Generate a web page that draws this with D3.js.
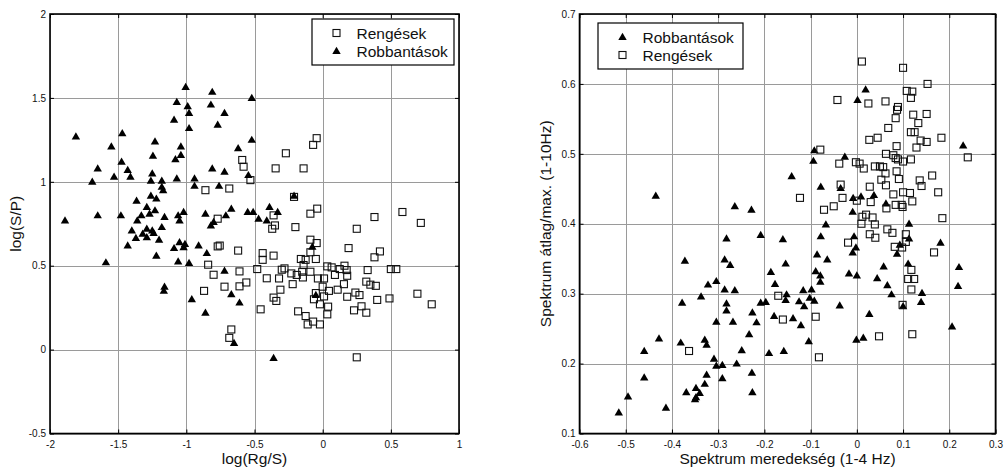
<!DOCTYPE html>
<html>
<head>
<meta charset="utf-8">
<script src="https://cdn.jsdelivr.net/npm/d3@7"></script>
<style>
  body { margin: 0; background: #fff; }
  text { font-family: "Liberation Sans", Arial, sans-serif; fill: #111; }
</style>
</head>
<body>
<svg id="fig" width="1004" height="469"></svg>
<script>
'use strict';

// ---- left panel: log(Rg/S) vs log(S/P) ----
var leftXTicks = [-2, -1.5, -1, -0.5, 0, 0.5, 1];
var leftYTicks = [-0.5, 0, 0.5, 1, 1.5, 2];

var rengesekA = [
  [-0.59,1.13],[-0.58,1.09],[-0.53,1.01],[-0.86,0.95],[-0.685,0.96],[-0.77,0.78],
  [-0.77,0.615],[-0.755,0.62],[-0.62,0.59],[-0.44,0.575],[-0.44,0.535],[-0.37,0.72],[-0.84,0.506],
  [-0.80,0.446],[-0.61,0.466],[-0.48,0.48],[-0.41,0.425],[-0.72,0.375],[-0.61,0.377],[-0.56,0.40],
  [-0.87,0.35],[-0.455,0.24],[-0.67,0.12],[-0.685,0.07],
  [-0.044,1.26],[-0.07,1.22],[-0.27,1.17],[-0.345,1.08],[-0.14,1.08],[-0.21,0.91],[-0.09,0.81],
  [-0.04,0.84],[-0.36,0.80],[0.38,0.79],[0.585,0.82],[0.72,0.755],
  [-0.35,0.74],[-0.20,0.73],[0.25,0.72],[-0.09,0.655],[-0.044,0.635],[0.19,0.605],[0.42,0.585],
  [0.38,0.55],[-0.36,0.56],[-0.09,0.58],[-0.16,0.54],[-0.125,0.535],[-0.05,0.54],[-0.14,0.504],
  [-0.30,0.476],[-0.28,0.484],[-0.23,0.454],[-0.19,0.445],[-0.15,0.464],[-0.145,0.43],[-0.09,0.464],
  [-0.035,0.424],[0.01,0.424],[-0.32,0.424],[0.034,0.496],[0.066,0.49],[0.09,0.445],[0.125,0.48],
  [0.16,0.5],[0.176,0.474],[0.18,0.44],[0.33,0.474],[0.50,0.48],[0.54,0.48],[-0.22,0.39],
  [-0.31,0.357],[-0.36,0.31],[-0.34,0.29],[0.00,0.375],[-0.05,0.337],[0.01,0.317],[-0.064,0.30],
  [0.046,0.35],[0.11,0.357],[0.156,0.39],[-0.02,0.27],[0.04,0.256],[0.034,0.21],[-0.18,0.228],
  [-0.125,0.20],[-0.07,0.167],[-0.11,0.15],[-0.02,0.15],[0.18,0.315],[0.24,0.34],[0.27,0.325],
  [0.23,0.234],[0.285,0.258],[0.32,0.22],[0.32,0.405],[0.35,0.387],[0.39,0.38],[0.40,0.296],
  [0.49,0.305],[0.695,0.333],[0.80,0.27],[0.25,-0.046]
];

var robbantasokA = [
  [-1.005,1.565],[-0.81,1.536],[-0.52,1.50],[-1.07,1.476],[-0.99,1.45],[-0.82,1.46],[-0.98,1.41],
  [-0.72,1.41],[-1.09,1.37],[-0.77,1.34],[-0.98,1.32],[-1.81,1.27],[-1.47,1.29],[-1.55,1.21],
  [-1.23,1.24],[-0.52,1.25],[-1.04,1.21],[-0.62,1.20],[-1.245,1.155],[-1.04,1.16],[-1.08,1.135],
  [-1.475,1.12],[-1.65,1.08],[-1.43,1.07],[-0.81,1.08],[-0.72,1.06],[-1.69,1.00],[-1.53,1.03],
  [-1.41,1.03],[-1.25,1.05],[-1.26,1.006],[-1.18,1.006],[-1.07,1.02],[-0.94,1.02],[-0.545,1.04],
  [-1.18,0.97],[-1.17,0.95],[-0.94,0.976],[-0.76,0.976],[-1.365,0.887],[-1.26,0.917],[-1.22,0.90],
  [-1.29,0.85],[-1.23,0.83],[-1.65,0.80],[-1.48,0.80],[-1.33,0.80],[-1.27,0.81],[-1.16,0.79],
  [-1.06,0.80],[-1.02,0.82],[-0.86,0.81],[-0.67,0.84],[-0.55,0.82],[-0.51,0.82],[-0.71,0.80],
  [-0.47,0.78],[-0.41,0.77],[-0.39,0.85],[-1.36,0.77],[-1.05,0.77],[-0.80,0.76],[-1.89,0.77],
  [-0.82,0.74],[-1.40,0.71],[-1.29,0.72],[-1.25,0.71],[-1.18,0.73],[-1.32,0.69],[-1.29,0.67],
  [-1.37,0.665],[-1.24,0.695],[-1.20,0.655],[-1.43,0.62],[-1.05,0.64],[-1.01,0.63],[-1.09,0.605],
  [-1.02,0.61],[-0.91,0.62],[-0.85,0.575],[-1.22,0.56],[-1.59,0.52],[-1.06,0.525],[-0.98,0.516],
  [-0.72,0.47],[-1.16,0.375],[-1.165,0.35],[-0.96,0.30],[-0.67,0.33],[-0.61,0.28],[-0.86,0.22],
  [-0.65,0.04],[-0.21,0.917],[-0.33,0.82],[-0.076,0.613],[-0.05,0.325],[-0.36,-0.05]
];

// ---- right panel: spectrum slope vs mean/max ----
var rightXTicks = [-0.6, -0.5, -0.4, -0.3, -0.2, -0.1, 0, 0.1, 0.2, 0.3];
var rightYTicks = [0.1, 0.2, 0.3, 0.4, 0.5, 0.6, 0.7];

var robbantasokB = [
  [-0.435,0.44],[-0.264,0.425],[-0.228,0.42],
  [0.019,0.592],[0.0015,0.577],[-0.092,0.505],[-0.094,0.49],[-0.026,0.496],[0.23,0.512],
  [-0.141,0.468],[-0.078,0.453],[-0.035,0.451],[-0.008,0.437],[0.009,0.439],[0.037,0.441],
  [0.063,0.429],[-0.009,0.417],[-0.067,0.399],[0.113,0.40],
  [-0.16,0.378],[-0.078,0.382],[-0.006,0.382],[-0.002,0.366],[-0.009,0.359],[0.113,0.379],
  [0.093,0.37],[0.087,0.357],[0.181,0.373],[-0.086,0.356],[-0.064,0.349],[-0.154,0.343],
  [0.058,0.339],[0.111,0.343],[0.221,0.338],[-0.089,0.332],[-0.079,0.326],[-0.079,0.317],
  [-0.017,0.329],[0.0,0.326],[0.044,0.322],[0.066,0.312],[0.075,0.299],[0.219,0.311],
  [0.141,0.301],[0.139,0.288],[0.10,0.282],[-0.116,0.305],[-0.098,0.306],[-0.152,0.299],
  [-0.154,0.291],[-0.125,0.289],[-0.114,0.282],[-0.102,0.294],[-0.092,0.29],[-0.037,0.283],
  [0.027,0.271],[-0.138,0.265],[-0.121,0.255],[0.206,0.253],[-0.104,0.232],[-0.001,0.234],
  [0.014,0.237],[-0.158,0.218],
  [-0.282,0.379],[-0.208,0.384],[-0.372,0.347],[-0.286,0.349],[-0.274,0.341],[-0.186,0.331],
  [-0.177,0.314],[-0.322,0.313],[-0.304,0.318],[-0.286,0.306],[-0.264,0.305],[-0.337,0.296],
  [-0.378,0.287],[-0.282,0.286],[-0.282,0.276],[-0.208,0.287],[-0.197,0.288],[-0.179,0.268],
  [-0.304,0.26],[-0.268,0.26],[-0.226,0.273],[-0.217,0.259],[-0.233,0.242],[-0.428,0.236],
  [-0.381,0.23],[-0.329,0.234],[-0.325,0.227],[-0.249,0.219],[-0.19,0.215],[-0.46,0.218],
  [-0.309,0.207],[-0.304,0.197],[-0.291,0.198],[-0.26,0.20],[-0.227,0.187],[-0.325,0.184],
  [-0.329,0.171],[-0.291,0.179],[-0.46,0.18],[-0.348,0.165],[-0.34,0.158],[-0.369,0.159],
  [-0.35,0.149],[-0.348,0.152],[-0.226,0.159],[-0.495,0.153],[-0.413,0.137],[-0.515,0.13]
];

var rengesekB = [
  [0.011,0.632],[0.10,0.623],[0.153,0.60],[0.108,0.59],[0.12,0.589],[0.117,0.58],[-0.042,0.577],
  [0.025,0.572],[0.062,0.575],[0.089,0.567],[0.087,0.563],[0.084,0.551],[0.122,0.556],[0.151,0.557],
  [0.133,0.544],[0.068,0.537],[0.117,0.531],[0.125,0.531],[0.027,0.52],[0.045,0.523],[0.138,0.519],
  [0.151,0.517],[0.183,0.523],[0.086,0.511],[0.129,0.509],[-0.079,0.506],[0.063,0.50],[0.079,0.498],
  [0.084,0.494],[0.089,0.492],[0.10,0.489],[0.117,0.492],[0.24,0.495],[-0.038,0.486],[-0.002,0.488],
  [0.006,0.486],[0.015,0.479],[0.039,0.482],[0.05,0.482],[0.057,0.481],[0.062,0.472],[0.086,0.475],
  [0.053,0.463],[0.091,0.464],[0.163,0.469],[0.136,0.462],[0.14,0.454],[-0.035,0.456],[0.028,0.453],
  [0.063,0.455],[-0.031,0.437],[0.0,0.433],[0.03,0.431],[0.079,0.442],[0.10,0.445],[0.115,0.444],
  [0.12,0.432],[0.176,0.445],[-0.123,0.437],[-0.071,0.42],[-0.05,0.425],[0.064,0.422],[0.084,0.427],
  [0.097,0.427],[0.099,0.424],[0.012,0.41],[0.02,0.413],[0.034,0.409],[0.185,0.408],[0.01,0.40],
  [0.039,0.399],[0.066,0.392],[0.077,0.387],[0.106,0.385],[0.028,0.385],[0.04,0.38],[-0.019,0.373],
  [0.082,0.367],[0.098,0.366],[0.106,0.374],[0.167,0.359],[0.118,0.334],[0.111,0.321],[0.124,0.321],
  [0.118,0.306],[0.099,0.284],[-0.089,0.267],[0.048,0.239],[0.12,0.242],[-0.082,0.209],[-0.16,0.263],
  [-0.17,0.297],[-0.363,0.218]
];

var svg = d3.select('#fig');

function triangle (g) {
  g.append('path').attr('d', 'M0,-4.2L4.2,3L-4.2,3Z').attr('fill', '#000');
}

function square (g) {
  g.append('rect')
    .attr('x', -3.5).attr('y', -3.5).attr('width', 7).attr('height', 7)
    .attr('fill', 'none').attr('stroke', '#111').attr('stroke-width', 1.1);
}

function drawPanel (opts) {
  var x = d3.scaleLinear().domain(d3.extent(opts.xTicks)).range([opts.left, opts.right]);
  var y = d3.scaleLinear().domain(d3.extent(opts.yTicks)).range([opts.bottom, opts.top]);
  var w = opts.right - opts.left, h = opts.bottom - opts.top;

  var g = svg.append('g');

  // grid
  g.append('g')
    .attr('transform', 'translate(0,' + opts.bottom + ')')
    .call(d3.axisBottom(x).tickValues(opts.xTicks).tickSize(-h).tickFormat(''))
    .call(s => s.select('.domain').remove());
  g.append('g')
    .attr('transform', 'translate(' + opts.left + ',0)')
    .call(d3.axisLeft(y).tickValues(opts.yTicks).tickSize(-w).tickFormat(''))
    .call(s => s.select('.domain').remove());
  g.selectAll('.tick line').attr('stroke', '#9a9a9a').attr('shape-rendering', 'crispEdges');

  // axes with inward ticks on every side
  var axes = [
    [d3.axisBottom(x).tickValues(opts.xTicks).tickFormat(String).tickPadding(7), 0, opts.bottom],
    [d3.axisTop(x).tickValues(opts.xTicks).tickFormat(''), 0, opts.top],
    [d3.axisLeft(y).tickValues(opts.yTicks).tickFormat(String).tickPadding(4), opts.left, 0],
    [d3.axisRight(y).tickValues(opts.yTicks).tickFormat(''), opts.right, 0]
  ];
  axes.forEach(function (a) {
    g.append('g')
      .attr('transform', 'translate(' + a[1] + ',' + a[2] + ')')
      .call(a[0].tickSize(-4).tickSizeOuter(0))
      .call(s => s.select('.domain').remove())
      .call(s => s.selectAll('.tick line').attr('stroke', '#000'))
      .call(s => s.selectAll('text').attr('font-size', 10).attr('font-family', null).attr('fill', '#222'));
  });

  g.append('rect')
    .attr('x', opts.left).attr('y', opts.top).attr('width', w).attr('height', h)
    .attr('fill', 'none').attr('stroke', '#000').attr('stroke-width', 1.6);

  // points
  opts.series.forEach(function (s) {
    g.append('g').selectAll('g')
      .data(s.data)
      .join('g')
      .attr('transform', d => 'translate(' + x(d[0]) + ',' + y(d[1]) + ')')
      .each(function () { s.marker(d3.select(this)); });
  });

  // labels
  g.append('text')
    .attr('x', (opts.left + opts.right) / 2).attr('y', 464)
    .attr('text-anchor', 'middle').attr('font-size', 15.5)
    .text(opts.xLabel);
  g.append('text')
    .attr('transform', 'translate(' + opts.yLabelX + ',' + (opts.top + opts.bottom) / 2 + ') rotate(-90)')
    .attr('text-anchor', 'middle').attr('font-size', 15.5)
    .text(opts.yLabel);

  // legend
  var lg = g.append('g').attr('transform', 'translate(' + opts.legend[0] + ',' + opts.legend[1] + ')');
  lg.append('rect')
    .attr('width', opts.legend[2]).attr('height', 46)
    .attr('fill', '#fff').attr('stroke', '#000').attr('stroke-width', 1.2);
  opts.legendOrder.forEach(function (s, i) {
    var row = lg.append('g').attr('transform', 'translate(0,' + (14 + i * 18) + ')');
    s.marker(row.append('g').attr('transform', 'translate(24.5,0)'));
    row.append('text').attr('x', 44.5).attr('dy', '0.36em').attr('font-size', 15.5).text(s.name);
  });
}

var sqA = { name: 'Rengések', data: rengesekA, marker: square };
var trA = { name: 'Robbantások', data: robbantasokA, marker: triangle };
drawPanel({
  left: 50, right: 459, top: 14, bottom: 433.5,
  xTicks: leftXTicks, yTicks: leftYTicks,
  series: [sqA, trA], legendOrder: [sqA, trA],
  xLabel: 'log(Rg/S)', yLabel: 'log(S/P)', yLabelX: 21,
  legend: [312, 19, 142]
});

var trB = { name: 'Robbantások', data: robbantasokB, marker: triangle };
var sqB = { name: 'Rengések', data: rengesekB, marker: square };
drawPanel({
  left: 579.5, right: 995.5, top: 14, bottom: 433.5,
  xTicks: rightXTicks, yTicks: rightYTicks,
  series: [trB, sqB], legendOrder: [trB, sqB],
  xLabel: 'Spektrum meredekség (1-4 Hz)', yLabel: 'Spektrum átlag/max. (1-10Hz)', yLabelX: 551,
  legend: [598, 23, 145]
});
</script>
</body>
</html>
